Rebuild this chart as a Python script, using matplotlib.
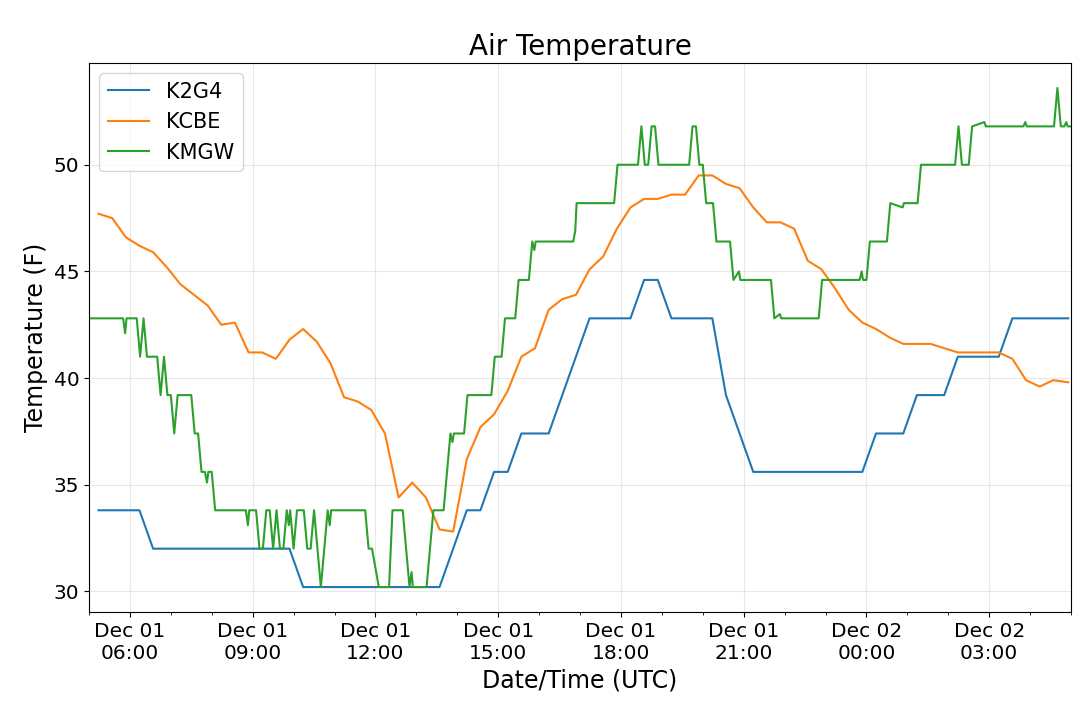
import pandas as pd
import matplotlib
matplotlib.use("Agg")
import matplotlib.pyplot as plt
import matplotlib.dates as mdates

stations = ["K2G4", "KCBE", "KMGW"]

# K2G4 obs (time, temp F)
k2g4_times = ["12-01 05:14", "12-01 06:14", "12-01 06:34", "12-01 09:54", "12-01 10:14",
              "12-01 13:34", "12-01 14:14", "12-01 14:34", "12-01 14:54", "12-01 15:14",
              "12-01 15:34", "12-01 16:14", "12-01 16:34", "12-01 16:54", "12-01 17:14",
              "12-01 18:14", "12-01 18:34", "12-01 18:54", "12-01 19:14", "12-01 20:14",
              "12-01 20:34", "12-01 20:54", "12-01 21:14", "12-01 23:54", "12-02 00:14",
              "12-02 00:54", "12-02 01:14", "12-02 01:54", "12-02 02:14", "12-02 03:14",
              "12-02 03:34", "12-02 04:56"]
k2g4_temps = [33.8, 33.8, 32.0, 32.0, 30.2,
              30.2, 33.8, 33.8, 35.6, 35.6,
              37.4, 37.4, 39.2, 41.0, 42.8,
              42.8, 44.6, 44.6, 42.8, 42.8,
              39.2, 37.4, 35.6, 35.6, 37.4,
              37.4, 39.2, 39.2, 41.0, 41.0,
              42.8, 42.8]

# KCBE obs every 20 min
kcbe_times = ["12-01 05:14", "12-01 05:34", "12-01 05:54", "12-01 06:14", "12-01 06:34",
              "12-01 06:54", "12-01 07:14", "12-01 07:34", "12-01 07:54", "12-01 08:14",
              "12-01 08:34", "12-01 08:54", "12-01 09:14", "12-01 09:34", "12-01 09:54",
              "12-01 10:14", "12-01 10:34", "12-01 10:54", "12-01 11:14", "12-01 11:34",
              "12-01 11:54", "12-01 12:14", "12-01 12:34", "12-01 12:54", "12-01 13:14",
              "12-01 13:34", "12-01 13:54", "12-01 14:14", "12-01 14:34", "12-01 14:54",
              "12-01 15:14", "12-01 15:34", "12-01 15:54", "12-01 16:14", "12-01 16:34",
              "12-01 16:54", "12-01 17:14", "12-01 17:34", "12-01 17:54", "12-01 18:14",
              "12-01 18:34", "12-01 18:54", "12-01 19:14", "12-01 19:34", "12-01 19:54",
              "12-01 20:14", "12-01 20:34", "12-01 20:54", "12-01 21:14", "12-01 21:34",
              "12-01 21:54", "12-01 22:14", "12-01 22:34", "12-01 22:54", "12-01 23:14",
              "12-01 23:34", "12-01 23:54", "12-02 00:14", "12-02 00:34", "12-02 00:54",
              "12-02 01:14", "12-02 01:34", "12-02 01:54", "12-02 02:14", "12-02 02:34",
              "12-02 02:54", "12-02 03:14", "12-02 03:34", "12-02 03:54", "12-02 04:14",
              "12-02 04:34", "12-02 04:56"]
kcbe_temps = [47.7, 47.5, 46.6, 46.2, 45.9,
              45.2, 44.4, 43.9, 43.4, 42.5,
              42.6, 41.2, 41.2, 40.9, 41.8,
              42.3, 41.7, 40.7, 39.1, 38.9,
              38.5, 37.4, 34.4, 35.1, 34.4,
              32.9, 32.8, 36.2, 37.7, 38.3,
              39.4, 41.0, 41.4, 43.2, 43.7,
              43.9, 45.1, 45.7, 47.0, 48.0,
              48.4, 48.4, 48.6, 48.6, 49.5,
              49.5, 49.1, 48.9, 48.0, 47.3,
              47.3, 47.0, 45.5, 45.1, 44.2,
              43.2, 42.6, 42.3, 41.9, 41.6,
              41.6, 41.6, 41.4, 41.2, 41.2,
              41.2, 41.2, 40.9, 39.9, 39.6,
              39.9, 39.8]

# KMGW 5-min obs, listed where the value changes
kmgw_times = ["12-01 05:00", "12-01 05:50", "12-01 05:53", "12-01 05:55", "12-01 06:10",
              "12-01 06:15", "12-01 06:20", "12-01 06:25", "12-01 06:40", "12-01 06:45",
              "12-01 06:50", "12-01 06:55", "12-01 07:00", "12-01 07:05", "12-01 07:10",
              "12-01 07:30", "12-01 07:35", "12-01 07:40", "12-01 07:45", "12-01 07:50",
              "12-01 07:53", "12-01 07:55", "12-01 08:00", "12-01 08:05", "12-01 08:50",
              "12-01 08:53", "12-01 08:55", "12-01 09:05", "12-01 09:10", "12-01 09:15",
              "12-01 09:20", "12-01 09:25", "12-01 09:30", "12-01 09:35", "12-01 09:40",
              "12-01 09:45", "12-01 09:50", "12-01 09:53", "12-01 09:55", "12-01 10:00",
              "12-01 10:05", "12-01 10:15", "12-01 10:20", "12-01 10:25", "12-01 10:30",
              "12-01 10:40", "12-01 10:50", "12-01 10:53", "12-01 10:55", "12-01 11:45",
              "12-01 11:50", "12-01 11:55", "12-01 12:05", "12-01 12:20", "12-01 12:25",
              "12-01 12:40", "12-01 12:50", "12-01 12:53", "12-01 12:55", "12-01 13:15",
              "12-01 13:25", "12-01 13:40", "12-01 13:50", "12-01 13:53", "12-01 13:55",
              "12-01 14:10", "12-01 14:15", "12-01 14:50", "12-01 14:55", "12-01 15:05",
              "12-01 15:10", "12-01 15:25", "12-01 15:30", "12-01 15:45", "12-01 15:50",
              "12-01 15:53", "12-01 15:55", "12-01 16:50", "12-01 16:53", "12-01 16:55",
              "12-01 17:50", "12-01 17:55", "12-01 18:25", "12-01 18:30", "12-01 18:35",
              "12-01 18:40", "12-01 18:45", "12-01 18:50", "12-01 18:55", "12-01 19:40",
              "12-01 19:45", "12-01 19:50", "12-01 19:55", "12-01 20:00", "12-01 20:05",
              "12-01 20:15", "12-01 20:20", "12-01 20:40", "12-01 20:45", "12-01 20:53",
              "12-01 20:55", "12-01 21:40", "12-01 21:45", "12-01 21:53", "12-01 21:55",
              "12-01 22:50", "12-01 22:55", "12-01 23:50", "12-01 23:53", "12-01 23:55",
              "12-02 00:00", "12-02 00:05", "12-02 00:30", "12-02 00:35", "12-02 00:53",
              "12-02 00:55", "12-02 01:15", "12-02 01:20", "12-02 02:10", "12-02 02:15",
              "12-02 02:20", "12-02 02:30", "12-02 02:35", "12-02 02:53", "12-02 02:55",
              "12-02 03:50", "12-02 03:53", "12-02 03:55", "12-02 04:35", "12-02 04:40",
              "12-02 04:45", "12-02 04:50", "12-02 04:53", "12-02 04:55", "12-02 05:00"]
kmgw_temps = [42.8, 42.8, 42.1, 42.8, 42.8,
              41.0, 42.8, 41.0, 41.0, 39.2,
              41.0, 39.2, 39.2, 37.4, 39.2,
              39.2, 37.4, 37.4, 35.6, 35.6,
              35.1, 35.6, 35.6, 33.8, 33.8,
              33.1, 33.8, 33.8, 32.0, 32.0,
              33.8, 33.8, 32.0, 33.8, 32.0,
              32.0, 33.8, 33.1, 33.8, 32.0,
              33.8, 33.8, 32.0, 32.0, 33.8,
              30.2, 33.8, 33.1, 33.8, 33.8,
              32.0, 32.0, 30.2, 30.2, 33.8,
              33.8, 30.2, 30.9, 30.2, 30.2,
              33.8, 33.8, 37.4, 37.0, 37.4,
              37.4, 39.2, 39.2, 41.0, 41.0,
              42.8, 42.8, 44.6, 44.6, 46.4,
              46.0, 46.4, 46.4, 46.9, 48.2,
              48.2, 50.0, 50.0, 51.8, 50.0,
              50.0, 51.8, 51.8, 50.0, 50.0,
              51.8, 51.8, 50.0, 50.0, 48.2,
              48.2, 46.4, 46.4, 44.6, 45.0,
              44.6, 44.6, 42.8, 43.0, 42.8,
              42.8, 44.6, 44.6, 45.0, 44.6,
              44.6, 46.4, 46.4, 48.2, 48.0,
              48.2, 48.2, 50.0, 50.0, 51.8,
              50.0, 50.0, 51.8, 52.0, 51.8,
              51.8, 52.0, 51.8, 51.8, 53.6,
              51.8, 51.8, 52.0, 51.8, 51.8]


def to_dt(times):
    return pd.to_datetime(["2019-" + t for t in times])


fig, ax = plt.subplots(figsize=(10.8, 7.05), dpi=100)
fig.subplots_adjust(left=0.0824, right=0.9917, top=0.9106, bottom=0.1319)

ax.plot(to_dt(k2g4_times), k2g4_temps, label=stations[0])
ax.plot(to_dt(kcbe_times), kcbe_temps, label=stations[1])
kmgw_dt = to_dt(kmgw_times)
ax.plot(kmgw_dt, kmgw_temps, label=stations[2])

ax.set_xlim(kmgw_dt[0], kmgw_dt[-1])
ax.xaxis.set_major_locator(mdates.HourLocator(byhour=range(0, 24, 3)))
ax.xaxis.set_minor_locator(mdates.HourLocator())
ax.xaxis.set_major_formatter(mdates.DateFormatter("%b %d\n%H:%M"))
ax.tick_params(axis="both", which="major", labelsize=14.5)
ax.set_yticks([30, 35, 40, 45, 50])
ax.grid(True, color="0.85", alpha=0.6)

ax.set_title("Air Temperature", fontsize=20)
ax.set_xlabel("Date/Time (UTC)", fontsize=17)
ax.set_ylabel("Temperature (F)", fontsize=17)
ax.legend(loc="upper left", fontsize=15)

fig.savefig("out.png", dpi=100)
